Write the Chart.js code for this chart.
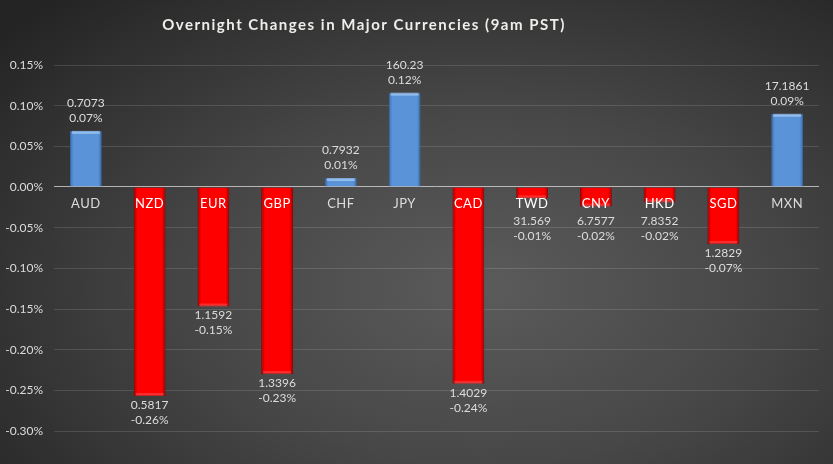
<!DOCTYPE html>
<html>
<head>
<meta charset="utf-8">
<script src="https://cdn.jsdelivr.net/npm/chart.js@4"></script>
<style>
  html, body { margin: 0; padding: 0; }
  body {
    width: 833px; height: 464px; overflow: hidden;
    background: radial-gradient(ellipse 75% 85% at 58% 62%, #5b5b5b 0%, #474747 45%, #2e2e2e 85%, #242424 100%);
  }
  #wrap { position: relative; width: 833px; height: 464px; }
</style>
</head>
<body>
<div id="wrap"><canvas id="fxChart" width="833" height="464"></canvas></div>
<script>
// data
const titleText = 'Overnight Changes in Major Currencies (9am PST)';
const currencies = ['AUD', 'NZD', 'EUR', 'GBP', 'CHF', 'JPY', 'CAD', 'TWD', 'CNY', 'HKD', 'SGD', 'MXN'];
const changePct = [0.069, -0.257, -0.147, -0.230, 0.011, 0.116, -0.242, -0.014, -0.024, -0.019, -0.070, 0.090];
const rates = ['0.7073', '0.5817', '1.1592', '1.3396', '0.7932', '160.23', '1.4029', '31.569', '6.7577', '7.8352', '1.2829', '17.1861'];
const yTicks = [0.15, 0.10, 0.05, 0.00, -0.05, -0.10, -0.15, -0.20, -0.25, -0.30];

const FONT = 'Lato, "Open Sans", sans-serif';
const TXT = '#dcdcdc';

// bars get a soft bevel look: dark edges, brighter middle
function barFill(ctx) {
    const chart = ctx.chart;
    const v = ctx.raw;
    const flat = v >= 0 ? '#5a93d8' : '#ff0000';
    const xs = chart.scales && chart.scales.x;
    if (!chart.chartArea || !xs) return flat;
    const cx = xs.getPixelForValue(ctx.dataIndex);
    const half = (chart.chartArea.width / currencies.length) * 0.25;
    if (!Number.isFinite(cx) || !Number.isFinite(half)) return flat;
    const g = chart.ctx.createLinearGradient(cx - half, 0, cx + half, 0);
    if (v >= 0) {
        g.addColorStop(0, '#3f73b4');
        g.addColorStop(0.12, '#5a93d8');
        g.addColorStop(0.88, '#5a93d8');
        g.addColorStop(1, '#3f73b4');
    } else {
        g.addColorStop(0, '#a80000');
        g.addColorStop(0.12, '#ff0000');
        g.addColorStop(0.88, '#ff0000');
        g.addColorStop(1, '#a80000');
    }
    return g;
}

const titlePlugin = {
    id: 'titleText',
    afterDraw(chart) {
        const c = chart.ctx;
        c.save();
        c.font = 'bold 15px ' + FONT;
        if ('letterSpacing' in c) c.letterSpacing = '1.5px';
        c.fillStyle = '#eeeeea';
        c.textAlign = 'center';
        c.textBaseline = 'middle';
        c.fillText(titleText, 364, 25);
        c.restore();
    }
};

const barLabels = {
    id: 'barLabels',
    afterDatasetsDraw(chart) {
        const c = chart.ctx;
        const meta = chart.getDatasetMeta(0);
        const zeroY = chart.scales.y.getPixelForValue(0);
        c.save();
        c.textAlign = 'center';
        c.textBaseline = 'middle';
        meta.data.forEach((bar, i) => {
            const v = changePct[i];
            // bevel highlight on the bar end
            const half = bar.width / 2;
            c.fillStyle = v >= 0 ? 'rgba(190,220,255,0.55)' : 'rgba(255,120,120,0.35)';
            if (v >= 0) c.fillRect(bar.x - half + 2, bar.y, bar.width - 4, 3);
            else c.fillRect(bar.x - half + 2, bar.y - 3, bar.width - 4, 3);

            // category name just under the zero line
            c.font = '13px ' + FONT;
            if ('letterSpacing' in c) c.letterSpacing = '0.5px';
            c.fillStyle = v < 0 ? '#ffffff' : TXT;
            c.fillText(currencies[i], bar.x, zeroY + 17);
            if ('letterSpacing' in c) c.letterSpacing = '0px';

            // rate + change
            c.font = '12px ' + FONT;
            c.fillStyle = TXT;
            const pct = v.toFixed(2) + '%';
            if (v >= 0) {
                const y2 = bar.y - 13;
                c.fillText(rates[i], bar.x, y2 - 15);
                c.fillText(pct, bar.x, y2);
            } else {
                const y1 = Math.max(bar.y + 9, zeroY + 34);
                c.fillText(rates[i], bar.x, y1);
                c.fillText(pct, bar.x, y1 + 15);
            }
        });
        c.restore();
    }
};

new Chart(document.getElementById('fxChart'), {
    type: 'bar',
    data: {
        labels: currencies,
        datasets: [{
            data: changePct,
            backgroundColor: barFill,
            borderColor: ctx => ctx.raw >= 0 ? '#3a6aa8' : '#9a0000',
            borderWidth: 1,
            borderSkipped: 'start',
            barPercentage: 0.5,
            categoryPercentage: 1
        }]
    },
    options: {
        responsive: false,
        animation: false,
        layout: { padding: { top: 65, bottom: 33, left: 0, right: 14 } },
        plugins: {
            legend: { display: false },
            tooltip: { enabled: false }
        },
        scales: {
            x: { display: false },
            y: {
                min: -0.30,
                max: 0.15,
                afterFit(scale) { scale.width = 54; },
                afterBuildTicks(scale) { scale.ticks = yTicks.map(v => ({ value: v })); },
                border: { display: false },
                grid: {
                    drawTicks: false,
                    color: ctx => ctx.tick && Math.abs(ctx.tick.value) < 1e-9 ? 'rgba(220,220,220,0.75)' : 'rgba(255,255,255,0.13)',
                    lineWidth: 1
                },
                ticks: {
                    padding: 11,
                    color: TXT,
                    font: { family: FONT, size: 12 },
                    callback: v => Number(v).toFixed(2) + '%'
                }
            }
        }
    },
    plugins: [titlePlugin, barLabels]
});
</script>
</body>
</html>
